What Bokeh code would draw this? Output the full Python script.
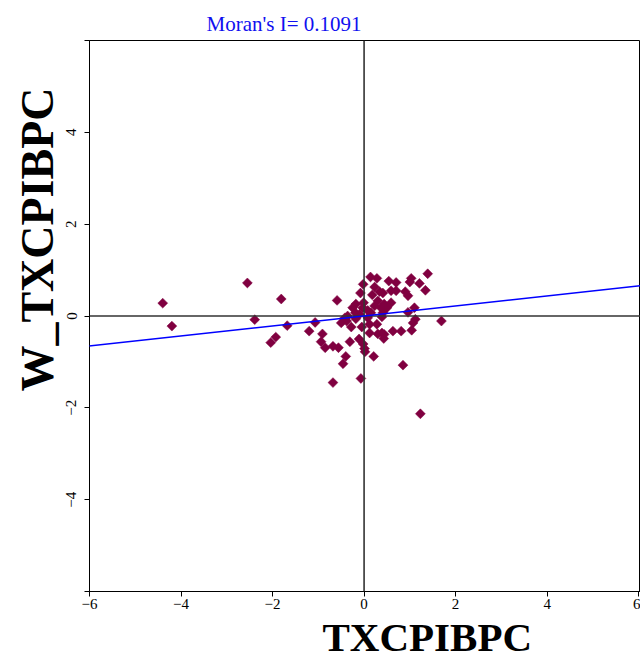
from bokeh.plotting import figure
from bokeh.models import Span, Slope, FixedTicker, Range1d, Title
from bokeh.embed import file_html
from bokeh.resources import INLINE
import math

title_text = "Moran's I= 0.1091"
x_label = "TXCPIBPC"
y_label = "W_TXCPIBPC"
moran_slope = 0.1091
moran_intercept = 0.0
ticks = [-6, -4, -2, 0, 2, 4, 6]

x_vals = [-4.40, -4.20, -2.55, -1.81, -2.39, -1.68, -1.93, -2.04, -1.07, -1.20,
          -0.91, -0.94, -0.85, -0.68, -0.56, -0.59, -0.40, -0.46, -0.68, -0.07,
          -0.31, -0.11, -0.02, 0.01, 0.02, 0.21, 0.85, 1.23, 1.69, 1.39,
          1.34, 1.21, 1.03, 1.00, 0.96, 0.90, 0.70, 0.70, 0.59, 0.54,
          0.28, 0.14, -0.02, -0.08, 0.23, 0.34, 0.18, 0.41, 1.10, 0.96,
          1.12, 1.07, 1.04, 0.81, 0.63, 0.43, 0.44, 0.39, 0.30, 0.28,
          0.12, 0.12, -0.05, 0.39, 0.41, 0.37, 0.44, 0.59, 0.50, 0.23,
          0.15, 0.08, -0.01, -0.03, -0.18, -0.25, -0.19, -0.18, -0.36, -0.38,
          -0.50, -0.28, -0.42, -0.10, 0.08, 0.30]
y_vals = [0.28, -0.22, 0.72, 0.37, -0.08, -0.21, -0.46, -0.58, -0.14, -0.33,
          -0.39, -0.56, -0.69, -0.66, -0.69, 0.34, -0.88, -1.04, -1.45, -1.36,
          -0.56, -0.50, -0.61, -0.71, -0.78, -0.88, -1.07, -2.13, -0.11, 0.92,
          0.56, 0.71, 0.82, 0.74, 0.44, 0.53, 0.73, 0.55, 0.55, 0.76,
          0.82, 0.85, 0.69, 0.50, 0.63, 0.53, 0.46, 0.50, 0.18, 0.08,
          -0.07, -0.15, -0.31, -0.33, -0.33, -0.49, -0.40, -0.37, -0.39, -0.18,
          -0.18, -0.37, -0.24, -0.02, 0.07, 0.18, 0.26, 0.29, 0.18, 0.22,
          0.07, 0.12, 0.29, 0.18, 0.26, 0.18, 0.07, -0.06, 0.00, -0.11,
          -0.15, -0.24, -0.04, 0.04, -0.04, 0.33]

serif = "Liberation Serif"

p = figure(width=640, height=659, output_backend="svg", toolbar_location=None,
           x_range=Range1d(-6, 6.04), y_range=Range1d(-6, 6),
           min_border_left=89, min_border_right=0, min_border_top=40,
           min_border_bottom=67)
p.grid.visible = False
p.outline_line_color = "black"
p.outline_line_width = 1
p.outline_line_alpha = 1

for ax in (p.xaxis[0], p.yaxis[0]):
    ax.ticker = FixedTicker(ticks=ticks)
    ax.minor_tick_line_color = None
    ax.major_tick_out = 5
    ax.major_tick_in = 0
    ax.axis_line_color = "black"
    ax.major_tick_line_color = "black"
    ax.major_label_text_font = serif
    ax.major_label_text_font_size = "15px"
    ax.major_label_text_color = "black"

p.xaxis[0].major_label_standoff = 2
p.yaxis[0].major_label_orientation = "vertical"
p.yaxis[0].major_label_standoff = 8
p.yaxis[0].major_label_overrides = {6: "", -6: ""}

p.add_layout(Span(location=0, dimension="width", line_color="#333333", line_width=1.6))
p.add_layout(Span(location=0, dimension="height", line_color="#333333", line_width=1.6))
p.add_layout(Slope(gradient=moran_slope, y_intercept=moran_intercept,
                   line_color="#0000FF", line_width=1.5))

p.scatter(x_vals, y_vals, marker="square", angle=math.pi / 4, size=7,
          fill_color="#800040", line_color="#800040", line_width=0.5)

p.add_layout(Title(text=title_text, align="left", offset=117, standoff=10,
                   text_font=serif, text_font_size="21px", text_font_style="normal",
                   text_color="#1010F0"), "above")
p.add_layout(Title(text=x_label, align="left", offset=233, standoff=0,
                   text_font=serif, text_font_size="41px", text_font_style="bold",
                   text_color="black"), "below")
p.add_layout(Title(text=y_label, align="right", offset=47, standoff=2,
                   text_font=serif, text_font_size="46px", text_font_style="bold",
                   text_color="black"), "left")

open("out.html", "w").write(file_html(p, INLINE))
